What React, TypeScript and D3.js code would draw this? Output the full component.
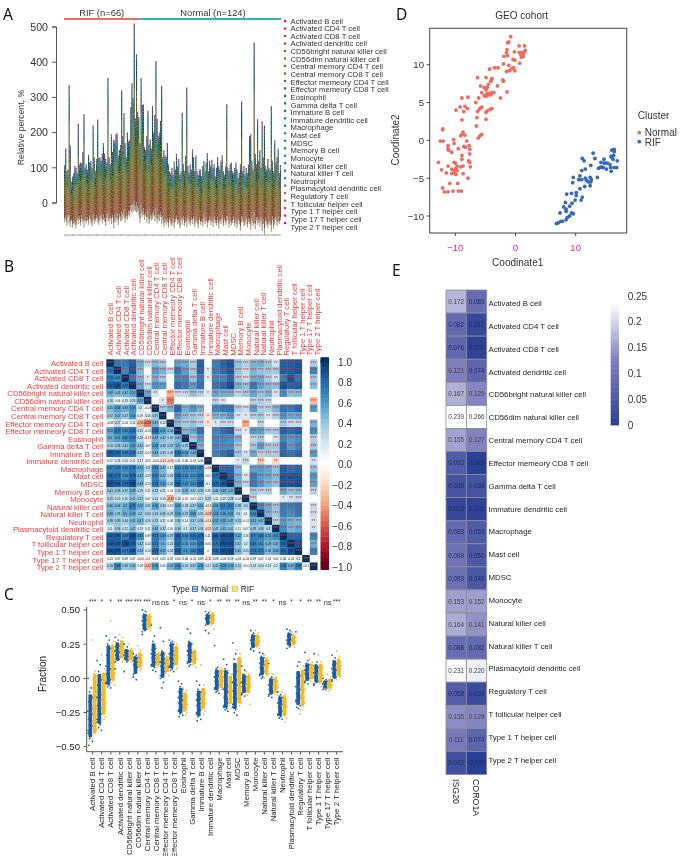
import React from "react";
import * as d3 from "d3";

const cells = ["Activated B cell","Activated CD4 T cell","Activated CD8 T cell","Activated dendritic cell","CD56bright natural killer cell","CD56dim natural killer cell","Central memory CD4 T cell","Central memory CD8 T cell","Effector memeory CD4 T cell","Effector memeory CD8 T cell","Eosinophil","Gamma delta T cell","Immature  B cell","Immature dendritic cell","Macrophage","Mast cell","MDSC","Memory B cell","Monocyte","Natural killer cell","Natural killer T cell","Neutrophil","Plasmacytoid dendritic cell","Regulatory T cell","T follicular helper cell","Type 1 T helper cell","Type 17 T helper cell","Type 2 T helper cell"];

// Panel A: envelope of each sample's stacked bar
const sampleTops = [107,155,90,95,335,163,60,75,85,105,100,85,225,110,115,113,145,252,100,110,95,137,115,120,100,220,130,90,125,237,128,130,120,140,170,140,125,115,355,130,110,195,145,180,175,195,198,135,150,165,320,190,255,170,130,200,175,180,272,340,297,510,240,422,258,245,170,355,278,280,160,150,190,262,165,180,155,275,200,250,403,240,190,200,233,333,130,150,135,130,170,110,90,85,100,80,118,95,140,105,125,80,90,257,110,90,135,328,105,85,110,95,153,130,90,135,90,80,95,95,75,105,120,90,115,142,90,120,105,123,100,110,75,100,130,105,95,120,135,90,80,105,280,100,90,110,115,90,85,100,115,95,70,85,110,288,90,105,80,100,85,110,190,195,120,95,455,140,110,238,120,150,100,232,130,220,105,95,125,100,95,275,120,90,178,115,130,155,85,108];
const sampleBottoms = [-55,-48,-65,-40,-58,-68,-52,-70,-58,-62,-72,-50,-60,-48,-64,-45,-55,-70,-52,-58,-50,-62,-44,-58,-66,-48,-60,-52,-45,-55,-62,-50,-42,-58,-48,-52,-66,-44,-50,-56,-46,-60,-42,-72,-50,-55,-45,-62,-40,-52,-50,-44,-38,-56,-42,-48,-35,-40,-22,-30,-25,-20,-24,-28,-24,-35,-58,-30,-40,-34,-48,-38,-55,-42,-60,-44,-50,-46,-36,-52,-42,-58,-48,-52,-40,-60,-50,-68,-54,-62,-55,-70,-48,-62,-66,-50,-72,-54,-46,-60,-56,-72,-50,-62,-48,-66,-54,-70,-44,-58,-64,-50,-60,-46,-68,-52,-58,-72,-48,-62,-54,-66,-44,-60,-50,-70,-56,-48,-62,-52,-68,-46,-58,-64,-50,-72,-54,-60,-44,-66,-50,-62,-56,-48,-70,-52,-64,-58,-46,-66,-54,-72,-48,-60,-78,-56,-50,-66,-62,-46,-70,-54,-60,-76,-48,-66,-58,-74,-50,-62,-56,-68,-46,-80,-60,-88,-52,-64,-70,-56,-62,-82,-50,-74,-58,-48,-66,-54,-60,-50];
const cellShares = [.04,.035,.04,.035,.035,.04,.04,.035,.035,.04,.035,.035,.035,.04,.035,.035,.04,.035,.03,.04,.035,.035,.03,.04,.035,.035,.03,.04];
const stackBend = [.8,.5,.7,.2,.6,.9,.4,.64,.8,.3,.56,.76,.44];

// Panel B: lower triangle of the correlation matrix
const corrLower = [
[],
[.72],
[.71,.65],
[.82,.87,.73],
[.49,.45,.47,.52],
[.26,.06,.16,.26,.52],
[.45,.56,.49,.59,.2,-.03],
[.37,.47,.37,.56,.09,.16,.37],
[-.09,.27,.04,.12,-.35,-.53,.47,.14],
[.53,.72,.65,.75,.25,-.05,.78,.55,.44],
[.5,.55,.65,.69,.26,-.13,.48,.42,.35,.45],
[.33,.38,.41,.56,.42,.07,.58,.38,.39,.5,.37],
[.81,.8,.69,.74,.32,-.07,.48,.33,.28,.74,.56,.48],
[.07,.16,.15,.12,.17,.05,-.04,-.15,-.16,.11,.06,-.05,.06],
[.67,.69,.65,.73,.52,.3,.65,.47,.17,.65,.65,.65,.67,-.06],
[.8,.77,.63,.78,.49,.19,.71,.47,.26,.76,.65,.62,.73,.01,.77],
[.87,.84,.79,.89,.48,.13,.73,.56,.26,.81,.62,.62,.81,.1,.79,.84],
[.41,.39,.37,.49,.28,.11,.33,.21,.01,.26,.47,.37,.39,.16,.44,.49,.47],
[.31,.25,.25,.41,.37,.07,.24,.16,-.39,.16,.02,.03,.21,.29,.11,.19,.28,.14],
[.46,.46,.5,.71,.51,.31,.56,.34,.13,.56,.28,.37,.51,-.13,.54,.7,.7,.38,.3],
[.49,.39,.5,.53,.4,.33,.34,.36,.29,.54,.37,.56,.32,-.28,.56,.56,.57,.3,.1,.64],
[.38,.39,.34,.45,.47,.26,.33,.21,.08,.36,.14,.37,.36,-.14,.52,.52,.47,.33,-.01,.51,.47],
[.2,.36,.22,.42,.19,.11,.46,.32,.05,.36,.2,.37,.34,-.21,.41,.45,.41,.11,.07,.39,.36,.3],
[.82,.83,.69,.87,.62,.09,.73,.59,.37,.81,.65,.76,.78,.11,.82,.86,.87,.52,.16,.7,.68,.56,.61],
[.83,.83,.88,.81,.42,.14,.71,.5,.24,.77,.56,.56,.73,.05,.75,.87,.87,.42,.2,.69,.61,.49,.47,.8],
[.86,.87,.73,.83,.44,.14,.79,.52,.24,.82,.6,.66,.8,0,.8,.87,.9,.45,.25,.73,.71,.46,.52,.8,.87],
[.03,.07,.09,.07,-.04,-.1,.03,.03,.07,.04,.06,-.01,.09,-.11,.09,-.03,.13,-.03,-.04,.09,.02,.03,.02,.06,-.01,.1],
[.33,.66,.38,.43,.09,-.32,.56,.06,.47,.61,.31,.37,.56,.22,.41,.58,.53,.31,.04,.24,.24,.19,.2,.66,.49,.68,.01],
];
const corrTicks = [1,.8,.6,.4,.2,0,-.2,-.4,-.6,-.8,-1];
const rdbuStops = ["#67001F","#B2182B","#D6604D","#F4A582","#FDDBC7","#FFFFFF","#D1E5F0","#92C5DE","#4393C3","#2166AC","#053061"];

// Panel C: fractions, in hundredths
const normalFraction = [
[0,-7,-10,-14,-17,-20,-22,-24,-26,-28,-30,-32,-34,-35,-37,-38,-40,-42,-44,-46,-49],
[13,10,5,-1,-5,-9,-12,-14,-16,-18,-20,-22,-24,-26,-28,-30,-32,-34,-36,-38],
[31,28,25,22,17,14,11,9,7,5,3,2,0,-1,-2,-3,-4,-5,-6,-7],
[30,28,26,24,23,22,21,20,19,18,17,16,15,14,13,12,7],
[25,23,21,20,19,18,18,17,16,16,15,14,14,13,12,5],
[18,17,16,15,15,14,13,13,12,11,10,10,9,8,7,3,1,-1],
[50,49,47,46,45,44,43,42,41,40,39,38,37,36,35,34,32],
[39,31,27,22,21,20,19,18,17,16,15,14,13,12,11,10,9,8,6,5],
[37,27,20,18,17,15,14,12,11,10,9,8,6,5,3,2,0,-3,-7],
[28,27,26,25,24,22,20,18,17,16,15,14,13,11,10,9,8,7,6,5],
[-2,-4,-6,-8,-10,-12,-13,-14,-16,-17,-18,-19,-20,-21,-22,-23,-24,-25,-26,-27,-28],
[36,33,27,25,24,22,21,20,19,18,17,16,15,14,13,12,11,10,9],
[-2,-5,-8,-10,-12,-14,-15,-16,-18,-19,-20,-21,-22,-23,-24,-25,-26,-27,-28,-30,-31],
[49,48,47,46,46,45,45,44,44,43,43,42,42,41,40,39,35,33],
[24,8,7,5,4,3,2,1,0,-1,-2,-3,-4,-5,-6,-7,-8,-9,-10,-11],
[14,10,7,4,1,-2,-5,-8,-10,-12,-14,-15,-16,-18,-19,-20,-21,-22,-23,-24],
[26,18,14,5,3,1,-1,-3,-5,-7,-9,-11,-13,-15,-17,-19,-21,-23,-25,-27],
[9,6,3,1,0,-1,-2,-3,-4,-5,-6,-7,-8,-9,-10,-11,-12,-13],
[35,33,32,31,30,29,28,28,27,27,26,25,25,24,23,22,21,20],
[19,18,16,15,14,13,12,11,10,9,8,7,6,5,4,3,2,1,0],
[11,1,0,-1,-2,-3,-4,-5,-6,-7,-8,-8,-9,-10,-11,-12,-13,-14],
[-10,-12,-13,-14,-15,-16,-17,-18,-19,-20,-21,-22,-23,-24,-25,-26,-27,-28,-29,-30],
[36,35,33,32,31,30,29,28,28,27,26,26,25,24,23,22],
[34,12,9,2,0,-2,-4,-6,-8,-10,-11,-12,-13,-14,-15,-16,-17,-18,-19,-20,-21,-22],
[19,13,11,10,9,8,7,6,5,4,3,2,1,0,-1,-2,-3,-4],
[18,12,10,8,7,6,5,4,3,2,1,0,-1,-2,-3,-4,-5],
[0,-1,-2,-2,-3,-3,-4,-4,-5,-5,-6,-6,-7,-7,-8,-8],
[17,15,13,11,10,9,8,7,6,5,4,3,2,1,0,-1,-2],
];
const rifFraction = [
[28,5,3,-10,-15,-18,-22,-25,-27,-29,-31,-33,-35,-37,-40,-44,-47],
[17,7,3,-2,-7,-10,-13,-16,-18,-20,-22,-24,-26,-28,-30],
[42,27,23,13,11,9,7,5,4,2,0,-1,-3,-5],
[32,30,27,25,24,23,22,21,20,19,18,16,15,14,12],
[25,22,20,19,18,17,16,15,15,14,13,12],
[24,20,18,17,16,15,14,13,12,11,10,9,8,7,6],
[48,47,46,45,44,43,42,41,40,39,38,37,36,35],
[20,19,18,17,16,15,14,13,12,11,10,9,8],
[18,16,15,14,12,11,10,9,8,7,6,5,4,2],
[26,25,23,22,20,18,17,16,15,14,12,11,10,8,7],
[-7,-9,-11,-13,-15,-16,-17,-18,-19,-20,-21,-22,-24,-25,-27],
[22,21,20,19,18,17,16,15,14,13,12,11,10,8],
[10,-5,-8,-11,-13,-15,-16,-17,-18,-19,-20,-21,-22,-24,-26],
[49,48,47,46,45,44,44,43,43,42,41,40,39,36],
[8,7,6,5,3,2,1,0,-2,-3,-4,-5,-6,-7,-8,-10],
[6,3,1,-3,-6,-8,-10,-12,-14,-15,-17,-18,-20,-22],
[21,18,15,12,9,7,4,1,-3,-6,-9,-12,-15,-18,-20,-22],
[5,3,2,0,-1,-3,-4,-5,-6,-7,-8,-10,-12,-19],
[35,33,31,30,29,28,28,27,27,26,25,24,23,22],
[17,15,14,13,12,11,10,9,8,7,6,5,4,3,2,0],
[3,1,0,-2,-3,-4,-5,-6,-7,-8,-9,-10,-11,-12],
[-10,-12,-13,-15,-16,-18,-19,-20,-21,-22,-23,-25,-27,-29,-32],
[34,32,31,30,29,28,27,27,26,25,24,23],
[12,9,6,4,1,-2,-4,-6,-8,-10,-12,-14,-16,-18,-20,-23,-26],
[14,12,10,9,8,7,6,5,4,3,2,0,-2,-4],
[17,12,10,8,7,5,4,3,2,1,0,-2,-3,-4,-6],
[3,0,-1,-2,-3,-3,-4,-5,-5,-6,-7,-8,-9],
[20,16,14,12,11,10,9,8,7,6,5,4,3,2,1,-1],
];
const sigLabels = ["***","*","*","**","***","***","***","ns","ns","*","ns","*","ns","*","**","**","**","ns","**","**","*","ns","*","*","**","**","ns","***"];
const fractionTicks = [.5,.25,0,-.25,-.5];

// Panel D: MDS coordinates
const normalX = [-.8,-1.1,-1.3,.6,1.5,-1.4,1.6,-.2,.6,1,-1.5,1.5,1.3,.9,-1.3,-1.9,1,1.3,-.4,-.1,.7,-2,-1.1,-.3,-.6,-.1,-1.5,-1,-3.5,-2.9,-4.3,-6.3,-4.9,-3.9,-4,-4.1,-2.1,-2,-3,-5.8,-5.2,-4.5,-4.7,-4.9,-3.9,-3.6,-4.4,-4.7,-4.1,-5.6,-1.4,-6.1,-5.2,-4.9,-4.7,-2.5,-6.6,-5.6,-5.8,-6,-6.3,-3.9,-4.2,-4.7,-4.9,-4.9,-6.4,-8.9,-7.9,-9.2,-8.4,-8,-9.9,-8.6,-8.9,-6.5,-5.6,-5.9,-6.2,-12.1,-12.1,-8.7,-8.9,-8.4,-9.1,-10.3,-12.5,-12,-10.2,-11.2,-8.1,-7.7,-11.2,-11.1,-9.5,-8.6,-8.3,-7.6,-7.6,-10.6,-8.9,-8.9,-12.8,-10.2,-10,-7.8,-7.6,-11.2,-9.7,-9.1,-8.7,-7.5,-9.9,-12.3,-11.5,-10.6,-10.2,-9.7,-10.1,-8.7,-10.6,-9.9,-7.9,-10.9,-9.6,-12.1,-11.8,-11.2,-10.4,-9.5,-9];
const normalY = [13.7,13,12.9,12.5,12.5,12,11.9,11.7,11.6,11.6,11.6,11.7,11.4,11.3,11.2,11.1,11,11.1,10.7,10.6,10.2,10.1,9.9,9.6,9.5,9.2,9.1,9.2,9.6,9.6,9.4,8.3,8.3,8.2,8,7.8,8,7.8,7.2,7.2,7,7.4,7,6.7,6.3,6.3,6.2,6.2,6,6.3,6.4,5.6,5.9,5.8,5.9,5.6,5,4.4,4.3,4.1,3.8,4.2,4.1,3.9,3.7,2.8,3,5.6,5.7,4.4,4.5,4.2,4,3.8,2.7,1.9,.8,.6,.3,1.5,1.4,1.1,.8,.7,.6,.1,-.1,-.1,-.4,-.7,-.1,-.7,-1.1,-1.3,-1.1,-.8,-.9,-1.2,-1.8,-1.6,-2,-2.5,-2.9,-2.9,-3,-2.7,-2.9,-3.4,-3.4,-3.5,-3.4,-3.5,-3.7,-3.9,-4.3,-3.8,-4,-4,-4.3,-4.4,-4.4,-4.5,-5,-5.7,-5.7,-6.3,-6.8,-6.8,-6.7,-6.7,-6.7];
const rifX = [16,16.4,16.4,12.9,16.3,15.9,11.1,11.4,13.2,14.7,16.2,16.9,15.9,14.2,14.7,15,15.3,15.7,12.5,14,14.3,14.6,15.8,16.4,16.8,13.8,15.1,11.6,11,15.9,9.6,10.7,13.6,10.5,11,11.6,12.4,11.8,12.1,12.5,12.6,9.5,11.5,12.4,10.7,9.3,8.5,10.1,10.1,11.1,9.9,10.9,8.3,9.4,8,9,8.4,8.4,7.4,9.3,9.6,9,8.6,8.4,7.8,7.5,7.1,6.8];
const rifY = [-1.3,-1.2,-1.5,-1.7,-2,-2.1,-2.4,-2.7,-2.4,-2.5,-2.5,-2.7,-2.2,-2.9,-3,-3,-3,-3.2,-3.3,-3.6,-3.5,-3.6,-3.6,-3.6,-3.6,-3.7,-3.8,-3.8,-4,-4.1,-4.9,-4.7,-4.9,-5.2,-5.2,-5,-4.9,-5.3,-5.5,-5.5,-5.2,-5.6,-6.1,-6,-6.4,-7,-7.1,-6.9,-7.3,-7.5,-7.9,-7.9,-8.2,-8.3,-8.8,-8.7,-9.1,-9.4,-9.6,-9.6,-9.7,-10,-10.2,-10.5,-10.7,-10.7,-10.9,-11];

// Panel E
const geneCells = ["Activated B cell","Activated CD4 T cell","Activated CD8 T cell","Activated dendritic cell","CD56bright natural killer cell","CD56dim natural killer cell","Central memory CD4 T cell","Effector memeory CD8 T cell","Gamma delta T cell","Immature dendritic cell","Macrophage","Mast cell","MDSC","Monocyte","Natural killer cell","Natural killer T cell","Plasmacytoid dendritic cell","Regulatory T cell","T follicular helper cell","Type 1 T helper cell","Type 2 T helper cell"];
const isg20 = ["0.172","0.082","0.076","0.121","0.167","0.239","0.155","0.053","0.039","0.013","0.083","0.099","0.093","0.153","0.164","0.088","0.231","0.058","0.135","0.111","0.032"];
const coro1a = ["0.089","0.017","0.006","0.074","0.129","0.266","0.127","-0.009","0.039","0.006","0.053","0.050","0.048","0.152","0.141","0.082","0.220","0.024","0.129","0.074","-0.035"];
const geneTicks = ["0.25","0.2","0.15","0.1","0.05","0"];

const FONT = "'Liberation Sans', Arial, sans-serif";
const jitter = [-2.2,.8,-.7,2.1,-1.5,.2,1.4,-2.4,2.3,-.2,-1.7,1,-1,1.8,.4,-2.2];

const cellColor = (i: number) => d3.hcl(15 + (i * 360) / 28, 72, 47).formatHex();
const barHue = d3.scaleLinear().domain([0, 16, 27]).range([35, 140, 335]);
const barColor = (i: number) =>
  i === 0 ? "#a39c86" : d3.hcl(barHue(i), i < 12 ? 38 : 32, i < 16 ? 38 : 30).formatHex();

function PanelA() {
  const y = d3.scaleLinear().domain([0, 500]).range([203, 27]);
  const ids = d3.range(sampleTops.length).map(String);
  const x = d3.scaleBand().domain(ids).range([64, 281]);
  const rows = sampleTops.map((t, i) => {
    const r: Record<string, number> = {};
    cellShares.forEach((s, c) => (r[cells[c]] = s * (t - sampleBottoms[i])));
    return r;
  });
  const total = d3.sum(cellShares);
  const series = d3.stack().keys(cells)(rows as any);
  const pos = (v: number, i: number) => {
    const span = sampleTops[i] - sampleBottoms[i];
    const p = Math.min(1, v / total / span);
    const k = stackBend[i % stackBend.length];
    return y(sampleBottoms[i] + span * (p + (1 - p) * p * k));
  };
  return (
    <g fontFamily={FONT}>
      <text x={3} y={20} fontSize={15.5} fontFamily="'Noto Sans', sans-serif" fill="#111">A</text>
      <text x={101.7} y={16} fontSize={9.4} textAnchor="middle" fill="#333">RIF (n=66)</text>
      <text x={213} y={16} fontSize={9.4} textAnchor="middle" fill="#333">Normal (n=124)</text>
      <rect x={64} y={18} width={75.3} height={2} fill="#ee6c64" />
      <rect x={139.3} y={18} width={141.7} height={2} fill="#2cb6b2" />
      <g>
        {series.map((s, c) => (
          <g key={c} fill={barColor(c)}>
            {s.map((d, i) => (
              <rect key={i} x={x(ids[i])} width={x.bandwidth()}
                y={pos(d[1], i)}
                height={Math.max(0, pos(d[0], i) - pos(d[1], i))} />
            ))}
          </g>
        ))}
      </g>
      <g fill="#b5b5b5">
        {ids.map((id, i) => (
          <rect key={id} x={x(id)} y={234} width={x.bandwidth() * 0.8} height={2.2} opacity={i % 3 ? 1 : 0.75} />
        ))}
      </g>
      <path d={`M52,${y(500)}H56.5V${y(0)}H52`} fill="none" stroke="#555" strokeWidth={1} />
      {y.ticks(5).map((t) => (
        <g key={t}>
          <line x1={52} x2={56.5} y1={y(t)} y2={y(t)} stroke="#555" />
          <text x={48} y={y(t) + 3.8} fontSize={10.6} textAnchor="end" fill="#333">{t}</text>
        </g>
      ))}
      <text transform="translate(24,127.5) rotate(-90)" fontSize={8.7} textAnchor="middle" fill="#333">Relative percent, %</text>
      {cells.map((c, i) => (
        <g key={c}>
          <rect x={284} y={20 + i * 7.48} width={2.2} height={2.2} fill={cellColor(i)} />
          <text x={290.5} y={23.6 + i * 7.63} fontSize={7.7} fill="#333">{c}</text>
        </g>
      ))}
    </g>
  );
}

function PanelB() {
  const x = d3.scaleBand().domain(cells).range([106.3, 317.3]);
  const y = d3.scaleBand().domain(cells).range([359.3, 570]);
  const labelX = d3.scalePoint().domain(cells).range([110.7, 317.3]);
  const labelY = d3.scalePoint().domain(cells).range([363.5, 567.5]);
  const color = d3.scaleLinear<string>().domain(d3.range(-1, 1.01, 0.2)).range(rdbuStops);
  const barY = d3.scaleLinear().domain([1, -1]).range([362.3, 567]);
  const corr = (i: number, j: number) => (i === j ? 1 : i > j ? corrLower[i][j] : corrLower[j][i]);
  const stars = (r: number) => (Math.abs(r) >= 0.235 ? "***" : Math.abs(r) >= 0.187 ? "**" : Math.abs(r) >= 0.142 ? "*" : "");
  const grad = d3.range(0, 41).map((k) => -1 + k * 0.05);
  return (
    <g fontFamily={FONT}>
      <text x={4} y={272} fontSize={15.5} fontFamily="'Noto Sans', sans-serif" fill="#111">B</text>
      {cells.map((c) => (
        <g key={c}>
          <text x={103.5} y={labelY(c)! + 2.6} fontSize={7.7} textAnchor="end" fill="#ef3b3e">{c}</text>
          <text transform={`translate(${labelX(c)! + 2.6},355.5) rotate(-90)`} fontSize={7.7} fill="#ef3b3e">{c}</text>
        </g>
      ))}
      {cells.map((rowName, i) =>
        cells.map((colName, j) => {
          const r = corr(i, j);
          const upper = j >= i;
          const s = stars(r);
          const fill = upper && !s ? "#fff" : color(r);
          return (
            <g key={colName}>
              <rect x={x(colName)} y={y(rowName)} width={x.bandwidth() + 0.2} height={y.bandwidth() + 0.2} fill={fill} />
              {upper ? (
                <text x={x(colName)! + x.bandwidth() / 2} y={y(rowName)! + 5.6} fontSize={5.2} textAnchor="middle" fill="#f02c2c">{s}</text>
              ) : (
                <text x={x(colName)! + x.bandwidth() / 2} y={y(rowName)! + 4.8} fontSize={2.9} textAnchor="middle" fill="#1a1a1a">{String(r).replace(/^(-?)0?\./, "$10.")}</text>
              )}
            </g>
          );
        })
      )}
      {grad.map((v) => (
        <rect key={v} x={320.5} y={barY(v + 0.05)} width={8.5} height={barY(v) - barY(v + 0.05) + 0.4} fill={color(v)} />
      ))}
      <rect x={320.5} y={359.3} width={8.5} height={3.2} fill="#053061" />
      <rect x={320.5} y={566.8} width={8.5} height={3.2} fill="#67001F" />
      {corrTicks.map((t) => (
        <text key={t} x={352} y={barY(t) + 3.6} fontSize={10} textAnchor="end" fill="#333">{d3.format(".1f")(t).replace("-", "\u2212")}</text>
      ))}
    </g>
  );
}

function Strip({ values, cx, color }: { values: number[]; cx: number; color: string }) {
  const y = d3.scaleLinear().domain([0.5, -0.5]).range([610, 746.7]);
  const sorted = values.map((v) => v / 100).sort(d3.ascending);
  const lo = d3.quantile(sorted, 0.12)!;
  const hi = d3.quantile(sorted, 0.88)!;
  return (
    <g fill={color}>
      <rect x={cx - 1.9} y={y(hi)} width={3.8} height={y(lo) - y(hi)} rx={1.4} />
      {values.map((v, i) => (
        <circle key={i} cx={cx + jitter[i % jitter.length]} cy={y(v / 100)} r={0.9} />
      ))}
    </g>
  );
}

function PanelC() {
  const x = d3.scalePoint().domain(cells).range([92.7, 336.7]);
  const y = d3.scaleLinear().domain([0.5, -0.5]).range([610, 746.7]);
  return (
    <g fontFamily={FONT}>
      <text x={4} y={600} fontSize={15.5} fontFamily="'Noto Sans', sans-serif" fill="#111">C</text>
      <text x={171.7} y={592} fontSize={8.2} fill="#222">Type</text>
      <rect x={192.5} y={586.5} width={5} height={5} fill="#cfe0f2" stroke="#1a5fa8" strokeWidth={0.8} />
      <line x1={192.5} x2={197.5} y1={589} y2={589} stroke="#1a5fa8" />
      <text x={201} y={592} fontSize={8.4} fill="#222">Normal</text>
      <rect x={232.5} y={586.5} width={5} height={5} fill="#fdeec4" stroke="#f5b921" strokeWidth={0.8} />
      <line x1={232.5} x2={237.5} y1={589} y2={589} stroke="#f5b921" />
      <text x={240.7} y={592} fontSize={8.4} fill="#222">RIF</text>
      {cells.map((c, i) => (
        <g key={c}>
          <Strip values={normalFraction[i]} cx={x(c)! - 2.4} color="#1a5fa8" />
          <Strip values={rifFraction[i]} cx={x(c)! + 2} color="#f5b921" />
          <line x1={x(c)} x2={x(c)} y1={751.7} y2={754.7} stroke="#555" />
          <text transform={`translate(${x(c)! + 2.7},757.5) rotate(-90)`} fontSize={7.8} textAnchor="end" fill="#222">{c}</text>
          <text x={x(c)} y={sigLabels[i] === "ns" ? 604.5 : 604} fontSize={sigLabels[i] === "ns" ? 7.5 : 6.5} textAnchor="middle" fill="#333">{sigLabels[i]}</text>
        </g>
      ))}
      <path d={`M86.7,607V751.7H343`} fill="none" stroke="#555" strokeWidth={1} />
      {fractionTicks.map((t) => (
        <g key={t}>
          <line x1={83.5} x2={86.7} y1={y(t)} y2={y(t)} stroke="#555" />
          <text x={80} y={y(t) + 3.4} fontSize={9.6} textAnchor="end" fill="#222">{d3.format(".2f")(t).replace("-", "\u2212")}</text>
        </g>
      ))}
      <text transform="translate(46,674) rotate(-90)" fontSize={10} textAnchor="middle" fill="#222">Fraction</text>
    </g>
  );
}

function PanelD() {
  const x = d3.scaleLinear().domain([-10, 10]).range([455.3, 575.7]);
  const y = d3.scaleLinear().domain([-10, 10]).range([216, 64.7]);
  return (
    <g fontFamily={FONT}>
      <text x={396} y={20} fontSize={15.5} fontFamily="'Noto Sans', sans-serif" fill="#111">D</text>
      <text x={521.7} y={19} fontSize={10} textAnchor="middle" fill="#333">GEO cohort</text>
      <rect x={429.7} y={28.3} width={197} height={204.7} fill="#fff" stroke="#444" strokeWidth={1} />
      {normalX.map((v, i) => <circle key={i} cx={x(v)} cy={y(normalY[i])} r={1.9} fill="#ef6a5f" />)}
      {rifX.map((v, i) => <circle key={i} cx={x(v)} cy={y(rifY[i])} r={1.9} fill="#3569bd" />)}
      {[-10, 0, 10].map((t) => (
        <g key={t}>
          <line x1={x(t)} x2={x(t)} y1={233} y2={236} stroke="#444" />
          <text x={x(t)} y={251} fontSize={9.6} textAnchor="middle" fill="#e6278f">{String(t).replace("-", "\u2212")}</text>
        </g>
      ))}
      {[-10, -5, 0, 5, 10].map((t) => (
        <g key={t}>
          <line x1={426.7} x2={429.7} y1={y(t)} y2={y(t)} stroke="#444" />
          <text x={424} y={y(t) + 3.5} fontSize={9.6} textAnchor="end" fill="#333">{String(t).replace("-", "\u2212")}</text>
        </g>
      ))}
      <text x={517.7} y={266} fontSize={10} textAnchor="middle" fill="#333">Coodinate1</text>
      <text transform="translate(398.5,140) rotate(-90)" fontSize={10} textAnchor="middle" fill="#333">Coodinate2</text>
      <text x={637.7} y={119} fontSize={10} fill="#333">Cluster</text>
      <circle cx={639.3} cy={132.7} r={1.9} fill="#ef6a5f" />
      <text x={644.7} y={136.3} fontSize={10} fill="#333">Normal</text>
      <circle cx={639.3} cy={141.7} r={1.9} fill="#3569bd" />
      <text x={644.7} y={146} fontSize={10} fill="#333">RIF</text>
    </g>
  );
}

function PanelE() {
  const y = d3.scaleBand().domain(geneCells).range([290, 774.5]);
  const genes = [{ name: "ISG20", values: isg20 }, { name: "CORO1A", values: coro1a }];
  const x = d3.scaleBand().domain(genes.map((g) => g.name)).range([446, 486.7]);
  const color = d3.scaleLinear<string>().domain([0, 0.125, 0.235]).range(["#2b3f96", "#7f80bf", "#ffffff"]).clamp(true);
  const barY = d3.scaleLinear().domain([0, 0.25]).range([425, 296]);
  const gradV = d3.range(0, 0.2351, 0.005);
  const labelY = d3.scalePoint().domain(geneCells).range([303.3, 760]);
  return (
    <g fontFamily={FONT}>
      <text x={392} y={276} fontSize={15.5} fontFamily="'Noto Sans', sans-serif" fill="#111">E</text>
      {genes.map((g) => (
        <g key={g.name}>
          {g.values.map((v, i) => (
            <g key={i}>
              <rect x={x(g.name)} y={y(geneCells[i])} width={x.bandwidth()} height={y.bandwidth()} fill={color(+v)} stroke="#8c8c8c" strokeWidth={0.8} />
              <text x={x(g.name)! + x.bandwidth() / 2} y={y(geneCells[i])! + y.bandwidth() / 2 + 2.2} fontSize={6.3} textAnchor="middle" fill={+v > 0.1 ? "#444" : "#222a5a"}>{v}</text>
            </g>
          ))}
          <text transform={`translate(${x(g.name)! + x.bandwidth() / 2 - 3.2},779) rotate(90)`} fontSize={8.8} fill="#222">{g.name}</text>
        </g>
      ))}
      {geneCells.map((c) => (
        <text key={c} x={488.5} y={labelY(c)! + 2.7} fontSize={7.8} fill="#222">{c}</text>
      ))}
      {gradV.map((v) => (
        <rect key={v} x={610.7} y={barY(v + 0.005)} width={8.3} height={barY(v) - barY(v + 0.005) + 0.4} fill={color(v)} />
      ))}
      {geneTicks.map((t) => (
        <text key={t} x={627.7} y={barY(+t) + 3.6} fontSize={10} fill="#333">{t}</text>
      ))}
    </g>
  );
}

export default function App() {
  return (
    <svg width={682} height={856} style={{ position: "absolute", left: 0, top: 0, background: "#fff" }}>
      <defs>
        <filter id="soft" x="0" y="0" width="100%" height="100%">
          <feGaussianBlur stdDeviation={0.28} />
        </filter>
      </defs>
      <g filter="url(#soft)">
        <PanelA />
        <PanelB />
        <PanelC />
        <PanelD />
        <PanelE />
      </g>
    </svg>
  );
}
